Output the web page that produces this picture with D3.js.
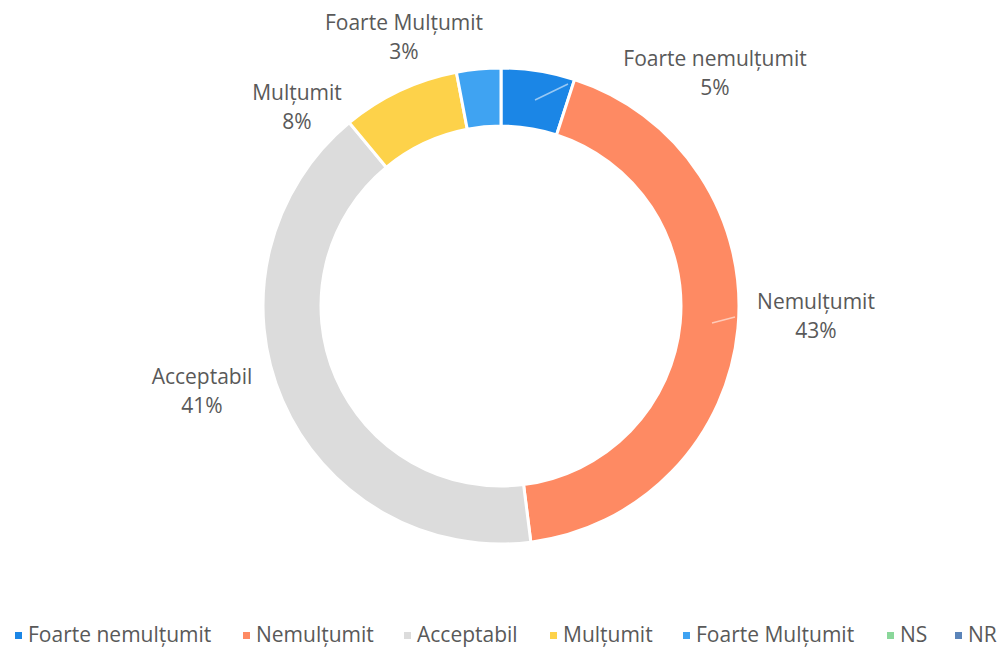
<!DOCTYPE html>
<html>
<head>
<meta charset="utf-8">
<script src="https://cdn.jsdelivr.net/npm/d3@7"></script>
<style>
  body { margin: 0; background: #fff; }
  svg { display: block; font-family: 'Open Sans', 'Noto Sans', sans-serif; }
</style>
</head>
<body>
<svg id="chart"></svg>
<script>
// categories and values
const categories = ['Foarte nemulțumit', 'Nemulțumit', 'Acceptabil', 'Mulțumit', 'Foarte Mulțumit', 'NS', 'NR'];
const values = [5, 43, 41, 8, 3, 0, 0];
const labels = ['5%', '43%', '41%', '8%', '3%', '', ''];
const colors = ['#1b86e6', '#fe8a63', '#dcdcdc', '#fdd24a', '#3fa3f2', '#8ad79a', '#5b84b9'];

const width = 1000, height = 647;
const cx = 501, cy = 306;
const outerR = 238, innerR = 180;

const svg = d3.select('#chart')
    .attr('width', width)
    .attr('height', height);

const color = d3.scaleOrdinal().domain(categories).range(colors);

const data = categories.map((c, i) => ({ name: c, value: values[i], label: labels[i] }));

const pie = d3.pie()
    .sort(null)
    .value(d => d.value);

const arc = d3.arc()
    .innerRadius(innerR)
    .outerRadius(outerR);

const arcs = pie(data);

const g = svg.append('g')
    .attr('transform', `translate(${cx}, ${cy})`);

g.selectAll('path.slice')
    .data(arcs.filter(d => d.data.value > 0))
    .join('path')
    .attr('class', 'slice')
    .attr('d', arc)
    .attr('fill', d => color(d.data.name))
    .attr('stroke', '#fff')
    .attr('stroke-width', 3);

// data labels: baseline of the first line, relative to the centre
const labelPos = {
    'Foarte nemulțumit': [214, -240],
    'Nemulțumit': [315, 3],
    'Acceptabil': [-299, 78],
    'Mulțumit': [-204, -206],
    'Foarte Mulțumit': [-97, -276]
};
// short leader lines drawn inside the slice
const leaders = {
    'Foarte nemulțumit': [[34, -206], [67, -222]],
    'Nemulțumit': [[211, 17], [234, 11]]
};

g.selectAll('line.leader')
    .data(arcs.filter(d => leaders[d.data.name]))
    .join('line')
    .attr('class', 'leader')
    .attr('x1', d => leaders[d.data.name][0][0])
    .attr('y1', d => leaders[d.data.name][0][1])
    .attr('x2', d => leaders[d.data.name][1][0])
    .attr('y2', d => leaders[d.data.name][1][1])
    .attr('stroke', '#ffffff')
    .attr('stroke-opacity', 0.55)
    .attr('stroke-width', 1.5);

const lab = g.selectAll('text.lab')
    .data(arcs.filter(d => labelPos[d.data.name]))
    .join('text')
    .attr('class', 'lab')
    .attr('text-anchor', 'middle')
    .attr('fill', '#595959')
    .attr('font-size', '21px');

lab.append('tspan')
    .attr('x', d => labelPos[d.data.name][0])
    .attr('y', d => labelPos[d.data.name][1])
    .text(d => d.data.name);
lab.append('tspan')
    .attr('x', d => labelPos[d.data.name][0])
    .attr('y', d => labelPos[d.data.name][1] + 29)
    .text(d => d.data.label);

// legend
const legendX = [15, 243, 404, 550, 683, 887, 955];
const legend = svg.append('g')
    .attr('transform', 'translate(0, 636)');

const item = legend.selectAll('g.item')
    .data(categories)
    .join('g')
    .attr('class', 'item')
    .attr('transform', (d, i) => `translate(${legendX[i]}, 0)`);

item.append('rect')
    .attr('x', 0)
    .attr('y', -4)
    .attr('width', 7)
    .attr('height', 7)
    .attr('fill', d => color(d));

item.append('text')
    .attr('x', 13)
    .attr('y', 0)
    .attr('dominant-baseline', 'middle')
    .attr('fill', '#595959')
    .attr('font-size', '21px')
    .text(d => d);
</script>
</body>
</html>
